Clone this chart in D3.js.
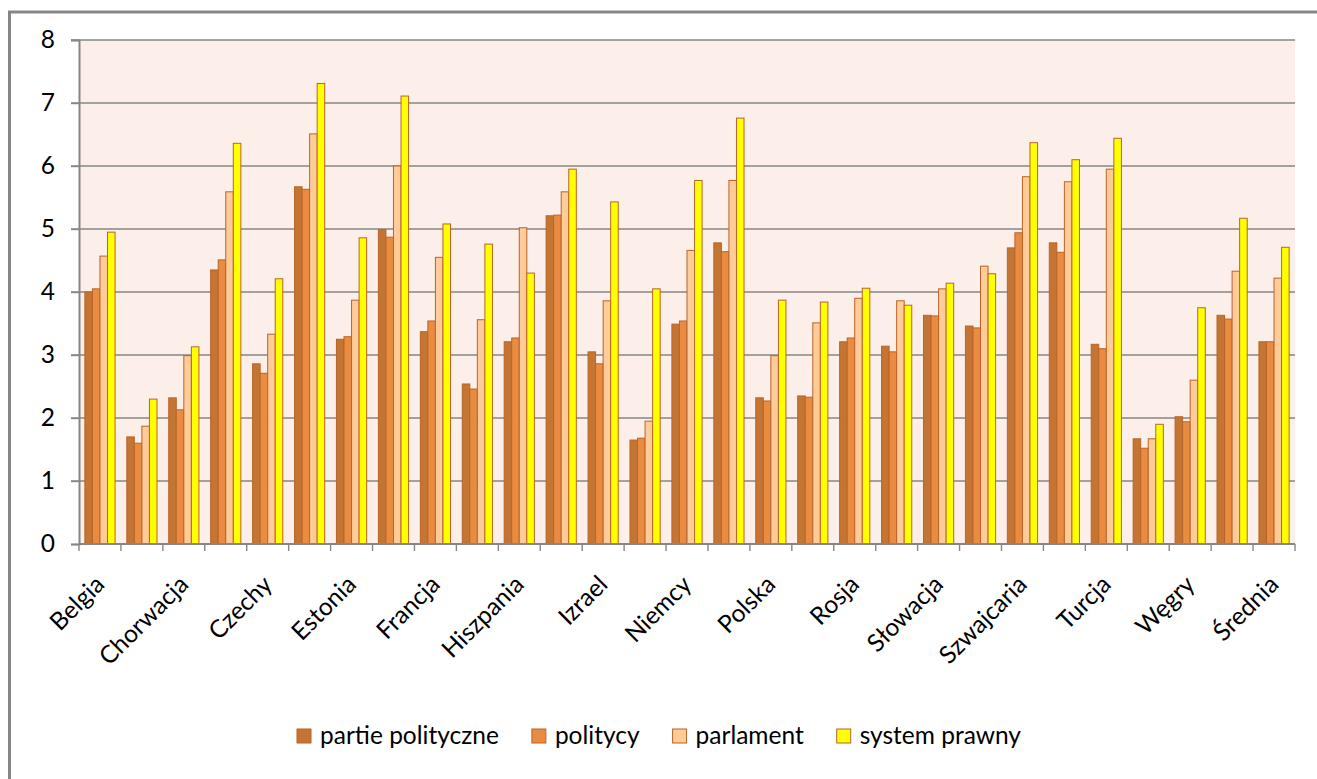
<!DOCTYPE html>
<html><head><meta charset="utf-8">
<script src="https://cdn.jsdelivr.net/npm/d3@7/dist/d3.min.js"></script>
<style>html,body{margin:0;padding:0;background:#fff;}svg{display:block;font-family:Lato,"Open Sans",sans-serif;}</style>
</head><body>
<svg id="chart" width="1317" height="779"></svg>
<script>
const categories = ["Belgia","Bułgaria","Chorwacja","Cypr","Czechy","Dania","Estonia","Finlandia","Francja","Grecja","Hiszpania","Holandia","Izrael","Łotwa","Niemcy","Norwegia","Polska","Portugalia","Rosja","Rumunia","Słowacja","Słowenia","Szwajcaria","Szwecja","Turcja","Ukraina","Węgry","Wielka Brytania","Średnia"];
const seriesNames = ["partie polityczne","politycy","parlament","system prawny"];
const partiePolityczne = [4.00,1.70,2.32,4.35,2.86,5.67,3.25,4.99,3.37,2.54,3.21,5.21,3.05,1.65,3.49,4.78,2.32,2.35,3.21,3.14,3.63,3.46,4.70,4.78,3.17,1.67,2.02,3.63,3.21];
const politycy       = [4.05,1.60,2.13,4.51,2.71,5.63,3.29,4.87,3.54,2.46,3.27,5.22,2.86,1.68,3.54,4.64,2.27,2.33,3.27,3.05,3.62,3.43,4.94,4.63,3.10,1.52,1.94,3.57,3.21];
const parlament      = [4.57,1.87,2.99,5.59,3.33,6.51,3.87,6.00,4.55,3.56,5.02,5.59,3.86,1.95,4.66,5.77,2.99,3.51,3.90,3.86,4.05,4.41,5.83,5.75,5.95,1.67,2.60,4.33,4.22];
const systemPrawny   = [4.95,2.30,3.13,6.36,4.21,7.31,4.86,7.11,5.08,4.76,4.30,5.95,5.43,4.05,5.77,6.76,3.87,3.84,4.06,3.79,4.14,4.29,6.37,6.10,6.44,1.90,3.75,5.17,4.71];
const yTicks = [0,1,2,3,4,5,6,7,8];
const colors = ["#C47533","#E98C42","#FFCB98","#FFFF00"];

const series = [partiePolityczne, politycy, parlament, systemPrawny];
const svg = d3.select("#chart");
const L = 79, R = 1295, T = 40, B = 544;
const grid = "#868686";
const FS = 24.5;

// outer frame
svg.append("rect").attr("x",9.5).attr("y",12).attr("width",1330).attr("height",800)
  .attr("fill","#fff").attr("stroke",grid).attr("stroke-width",3);

const x = d3.scaleBand().domain(categories).range([L,R]).paddingInner(0.28).paddingOuter(0.14);
const xs = d3.scaleBand().domain(d3.range(4)).range([0,x.bandwidth()]);
const y = d3.scaleLinear().domain([0,8]).range([B,T]);
const bounds = d3.scaleLinear().domain([0,categories.length]).range([L,R]);

svg.append("rect").attr("x",L).attr("y",T).attr("width",R-L).attr("height",B-T).attr("fill","#FCEEE8");

// gridlines
svg.append("g").selectAll("line").data(yTicks.filter(d=>d>0)).join("line")
  .attr("x1",L-8).attr("x2",R).attr("y1",d=>y(d)).attr("y2",d=>y(d))
  .attr("stroke",grid).attr("stroke-width",1.4);

// bars
const g = svg.append("g");
categories.forEach((c,i)=>{
  series.forEach((s,k)=>{
    g.append("rect")
      .attr("x", x(c)+xs(k)).attr("width", xs.bandwidth())
      .attr("y", y(s[i])).attr("height", y(0)-y(s[i]))
      .attr("fill", colors[k]).attr("stroke","#BA6428").attr("stroke-width",1);
  });
});

// y axis
const yAxis = d3.axisLeft(y).tickValues(yTicks).tickSize(8).tickPadding(16).tickFormat(d3.format("d"));
const ya = svg.append("g").attr("transform",`translate(${L},0)`).call(yAxis);
ya.select(".domain").attr("stroke",grid).attr("stroke-width",2);
ya.selectAll(".tick line").attr("stroke",grid).attr("stroke-width",1.4);
ya.selectAll(".tick text").attr("font-size",FS).attr("fill","#000").attr("font-family","Lato,sans-serif");

// x axis line & ticks
svg.append("line").attr("x1",L).attr("x2",R).attr("y1",B).attr("y2",B).attr("stroke",grid).attr("stroke-width",2);
svg.append("g").selectAll("line").data(d3.range(categories.length+1)).join("line")
  .attr("x1",d=>bounds(d)).attr("x2",d=>bounds(d)).attr("y1",B).attr("y2",B+7)
  .attr("stroke",grid).attr("stroke-width",1.4);

// x labels (every other)
svg.append("g").selectAll("text").data(categories.filter((c,i)=>i%2===0)).join("text")
  .attr("transform",d=>`translate(${x(d)+x.bandwidth()/2+6},586) rotate(-45)`)
  .attr("text-anchor","end").attr("font-size",FS).attr("fill","#000")
  .text(d=>d);

// legend
const lg = svg.append("g");
let lx = 297;
seriesNames.forEach((n,k)=>{
  lg.append("rect").attr("x",lx).attr("y",729).attr("width",14).attr("height",14)
    .attr("fill",colors[k]).attr("stroke","#BA6428").attr("stroke-width",1);
  const t = lg.append("text").attr("x",lx+23).attr("y",744).attr("font-size",FS).attr("fill","#000").text(n);
  lx += 23 + t.node().getComputedTextLength() + 33;
});
</script>
</body></html>
